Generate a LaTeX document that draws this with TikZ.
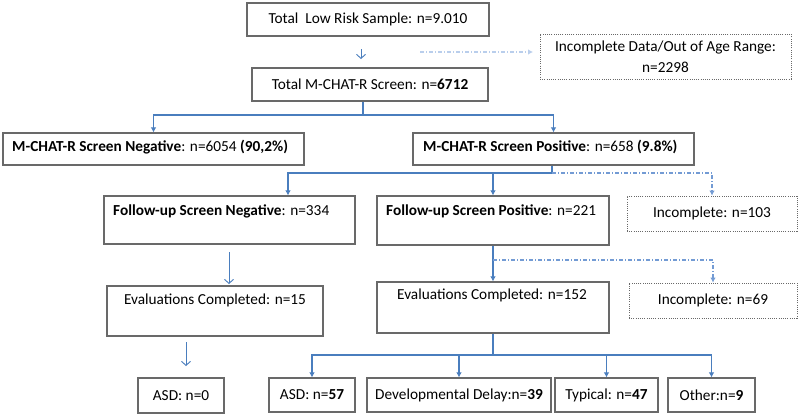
\documentclass[tikz,border=0pt]{standalone}
\usepackage{fontspec}
\setmainfont{Carlito}
\usetikzlibrary{arrows.meta}
\definecolor{conn}{RGB}{74,126,190}
\definecolor{connlight}{RGB}{115,155,212}
\definecolor{connpale}{RGB}{185,206,236}
\definecolor{boxline}{RGB}{105,105,105}
\begin{document}
\begin{tikzpicture}[x=1pt,y=-1pt,
  font=\fontsize{15.3}{21}\selectfont,
  box/.style={draw=boxline, line width=1.1pt, inner sep=0pt, fill=white},
  dotbox/.style={draw=boxline, line width=0.8pt, dash pattern=on 1pt off 1.2pt, inner sep=0pt, align=center},
  txt/.style={inner sep=0pt, text height=11pt, text depth=2pt},
  wire/.style={draw=conn, line width=1.2pt},
  tip/.style={wire, -{Latex[length=5pt,width=5.5pt]}},
  opentip/.style={wire, line width=0.9pt, -{Straight Barb[length=4pt,width=9pt]}},
  dd/.style={line width=1.1pt, dash pattern=on 4pt off 2pt on 1pt off 2pt},
]
\fill[white] (0,0) rectangle (800,415);
\useasboundingbox (0,0) rectangle (800,415);

% boxes
\node[box, minimum width=242pt, minimum height=33pt] (b1) at (368,19.5) {Total\ \ Low Risk Sample: n=9.010};
\node[box, minimum width=236pt, minimum height=33pt] (b2) at (370,84.5) {Total M-CHAT-R Screen: n=\textbf{6712}};
\node[dotbox, minimum width=251pt, minimum height=45pt] (inc1) at (665.5,56.5) {Incomplete Data/Out of Age Range:\\n=2298};

\node[box, minimum width=301pt, minimum height=32pt] (neg) at (153.5,149) {};
\node[txt, anchor=west] (negt) at (12,147) {\textbf{M-CHAT-R Screen Negative}: n=6054 \textbf{(90,2\%)}};
\node[box, minimum width=281pt, minimum height=32pt] (pos) at (553.5,149) {};
\node[txt, anchor=west] (post) at (423,147) {\textbf{M-CHAT-R Screen Positive}: n=658 \textbf{(9.8\%)}};

\node[box, minimum width=251pt, minimum height=48pt] (fneg) at (229.5,220) {};
\node[txt, anchor=west] (fnegt) at (113,211) {\textbf{Follow-up Screen Negative}: n=334};
\node[box, minimum width=232pt, minimum height=49pt] (fpos) at (493,220.5) {};
\node[txt, anchor=west] (fpost) at (386,211) {\textbf{Follow-up Screen Positive}: n=221};
\node[dotbox, minimum width=170pt, minimum height=35pt] (inc2) at (712,213.5) {Incomplete: n=103};

\node[box, minimum width=216pt, minimum height=50pt] (e15) at (215,311) {};
\node[txt] (e15t) at (215,300) {Evaluations Completed: n=15};
\node[box, minimum width=232pt, minimum height=51pt] (e152) at (493,307.5) {};
\node[txt] (e152t) at (492,295) {Evaluations Completed: n=152};
\node[dotbox, minimum width=168pt, minimum height=35pt] (inc3) at (713,300.5) {Incomplete: n=69};

\node[box, minimum width=86pt, minimum height=35pt] (asd0) at (181,395.5) {ASD: n=0};
\node[box, minimum width=86pt, minimum height=34pt] (asd57) at (312,395) {ASD: n=\textbf{57}};
\node[box, minimum width=184pt, minimum height=34pt] (dd) at (459,395) {Developmental Delay:n=\textbf{39}};
\node[box, minimum width=103pt, minimum height=34pt] (typ) at (606.5,395) {Typical: n=\textbf{47}};
\node[box, minimum width=87pt, minimum height=34pt] (oth) at (711.5,395) {Other:n=\textbf{9}};

% connectors
\coordinate (a1s) at (361,49);
\coordinate (a1e) at (361,59);
\draw[opentip] (a1s) -- (a1e);
\coordinate (d1s) at (420,52);
\coordinate (d1e) at (533,52);
\draw[dd, draw=connpale, -{Latex[length=5pt,width=5.5pt]}] (d1s) -- (d1e);

\coordinate (j1) at (363,115);
\draw[wire] (b2.south -| j1) -- (j1);
\draw[tip] (j1) -| (neg.north);
\draw[tip] (j1) -| (pos.north);

\coordinate (j2) at (552,173);
\draw[wire] (pos.south -| j2) -- (j2);
\draw[tip] (j2) -| ([xshift=58.5pt]fneg.north);
\draw[tip] (j2) -| (fpos.north);
\draw[dd, draw=connlight, -{Latex[length=5pt,width=5.5pt]}] (j2) -| (inc2.north);

\coordinate (a3s) at (229,252);
\coordinate (a3e) at (229,284);
\draw[opentip] (a3s) -- (a3e);

\draw[tip] (fpos.south) -- (e152.north);
\coordinate (j3) at (493,260);
\draw[dd, draw=connlight, -{Latex[length=5pt,width=5.5pt]}] (j3) -| (inc3.north);

\coordinate (a5s) at (186,342);
\coordinate (a5e) at (186,366);
\draw[opentip] (a5s) -- (a5e);

\coordinate (j4) at (493,355);
\draw[wire] (e152.south) -- (j4);
\draw[tip] (j4) -| (asd57.north);
\draw[tip] (j4) -| (dd.north);
\draw[tip] (j4) -| (typ.north);
\draw[tip] (j4) -| (oth.north);
\end{tikzpicture}
\end{document}
